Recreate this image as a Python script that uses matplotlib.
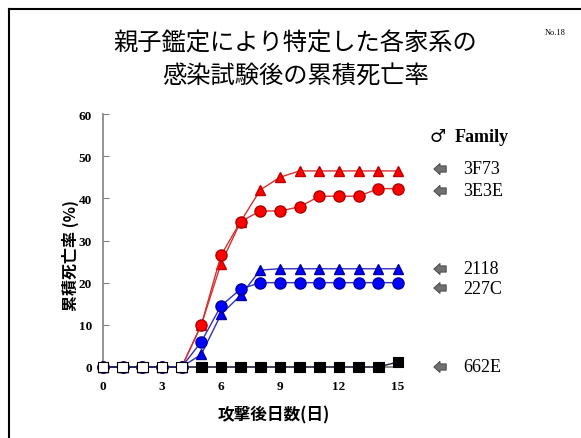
import numpy as np
import matplotlib.pyplot as plt

# days after challenge
days = list(range(16))

# cumulative mortality (%) per family
f_3F73 = [0, 0, 0, 0, 0, 10, 24.5, 34.5, 42, 45, 46.5, 46.5, 46.5, 46.5, 46.5, 46.5]
f_3E3E = [0, 0, 0, 0, 0, 10, 26.5, 34.5, 37, 37, 38, 40.5, 40.5, 40.5, 42.3, 42.3]
f_2118 = [0, 0, 0, 0, 0, 3, 12.5, 17, 23, 23.3, 23.3, 23.3, 23.3, 23.3, 23.3, 23.3]
f_227C = [0, 0, 0, 0, 0, 6, 14.5, 18.5, 20, 20, 20, 20, 20, 20, 20, 20]
f_662E = [0, 0, 0, 0, 0, 0, 0, 0, 0, 0, 0, 0, 0, 0, 0, 1.2]

families = ['3F73', '3E3E', '2118', '227C', '662E']
label_y = [170, 192, 270, 289, 368]  # pixel rows of the family labels

xticks = [0, 3, 6, 9, 12, 15]
yticks = [0, 10, 20, 30, 40, 50, 60]

W, H = 581, 439
fig = plt.figure(figsize=(W / 100, H / 100), dpi=100)
ax = fig.add_axes([103 / W, 1 - 368 / H, 295 / W, 253 / H])

serif = 'Liberation Serif'
jp = 'Noto Sans CJK JP'

red_line = '#d83030'
blue_line = '#3030c0'

ax.plot(days, f_3F73, color=red_line, lw=1, marker='^', ms=7.5,
        mfc='#ff0000', mec='#c00000', clip_on=False, zorder=3)
ax.plot(days, f_3E3E, color=red_line, lw=1, marker='o', ms=8,
        mfc='#ff0000', mec='#b00000', clip_on=False, zorder=3)
ax.plot(days, f_2118, color=blue_line, lw=1, marker='^', ms=7.5,
        mfc='#0000ff', mec='#0000a0', clip_on=False, zorder=3)
ax.plot(days, f_227C, color=blue_line, lw=1, marker='o', ms=8,
        mfc='#0000ff', mec='#0000a0', clip_on=False, zorder=3)

# black family: open squares before deaths start
ax.plot(days, f_662E, color='#202040', lw=1, clip_on=False, zorder=4)
face = ['white' if d < 5 else 'black' for d in days]
ax.scatter(days, f_662E, marker='s', s=60, c=face, edgecolors='black',
           linewidths=0.8, clip_on=False, zorder=5)

ax.set_xlim(0, 15)
ax.set_ylim(0, 60)
ax.set_xticks(xticks)
ax.set_yticks(yticks)
ax.set_xticklabels([str(t) for t in xticks], fontfamily=serif,
                   fontweight='bold', fontsize=9.5)
ax.set_yticklabels([str(t) for t in yticks], fontfamily=serif,
                   fontweight='bold', fontsize=9.5)
ax.tick_params(axis='y', direction='in', length=4, color='gray', pad=8)
ax.tick_params(axis='x', direction='out', length=0, pad=9)
for s in ['top', 'right']:
    ax.spines[s].set_visible(False)
for s in ['left', 'bottom']:
    ax.spines[s].set_color('gray')
    ax.spines[s].set_linewidth(1.2)

# axis labels placed where the slide has them
fig.text(70 / W, 1 - 256 / H, '累積死亡率 (%)', fontfamily=[jp, 'DejaVu Sans'],
         fontweight='bold', fontsize=11.5, rotation=90, ha='center', va='center')
fig.text(274 / W, 1 - 415 / H, '攻撃後日数(日)', fontfamily=jp,
         fontweight='bold', fontsize=12, ha='center', va='center')

# title
fig.text(295 / W, 1 - 44 / H, '親子鑑定により特定した各家系の', fontfamily=jp,
         fontsize=17.5, ha='center', va='center')
fig.text(296 / W, 1 - 76 / H, '感染試験後の累積死亡率', fontfamily=jp,
         fontsize=17.5, ha='center', va='center')
fig.text(555 / W, 1 - 33 / H, 'No.18', fontfamily=serif, fontsize=6,
         ha='center', va='center')

# legend on the right
fig.text(430 / W, 1 - 137 / H, '♂', fontfamily='DejaVu Sans',
         fontsize=13, ha='left', va='center')
fig.text(455 / W, 1 - 137 / H, 'Family', fontfamily=serif,
         fontweight='bold', fontsize=13, ha='left', va='center')
for name, py in zip(families, label_y):
    fig.text(463 / W, 1 - py / H, name, fontfamily=serif, fontsize=13,
             ha='left', va='center')
    ax.annotate('', xy=(431 / W, 1 - py / H), xytext=(449 / W, 1 - py / H),
                xycoords='figure fraction', textcoords='figure fraction',
                arrowprops=dict(arrowstyle='simple,head_width=0.8,head_length=0.45,tail_width=0.45',
                                fc='#707070', ec='#404040', lw=0.6))

# slide frame
fig.add_artist(plt.Line2D([9 / W, 9 / W], [0, 1 - 10 / H], color='black', lw=1.5))
fig.add_artist(plt.Line2D([9 / W, 1], [1 - 10 / H, 1 - 10 / H], color='black', lw=1.5))

fig.savefig('out.png', dpi=100)
